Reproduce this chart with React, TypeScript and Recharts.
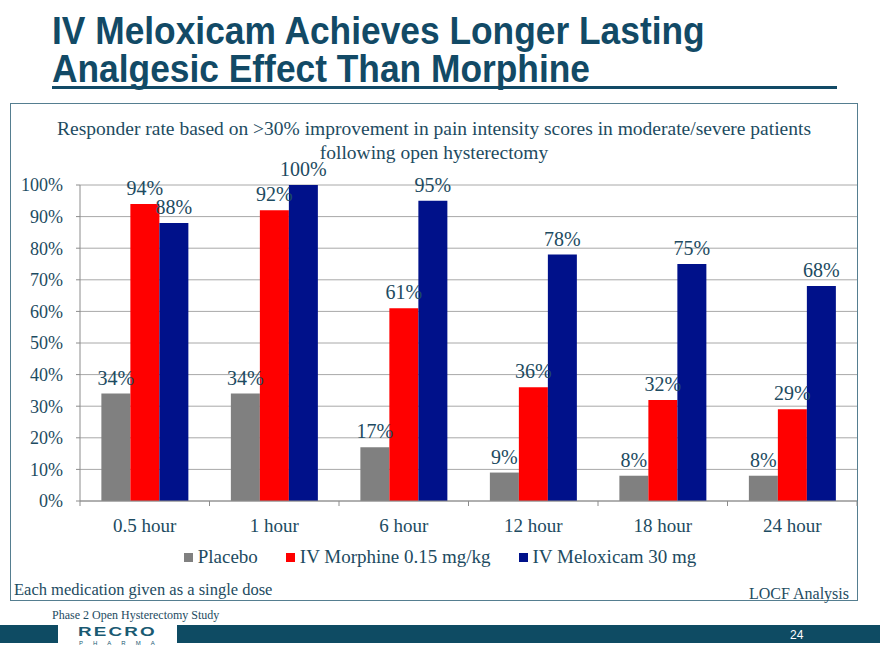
import React from 'react';
import { BarChart, Bar, XAxis, YAxis, CartesianGrid, Legend, LabelList } from 'recharts';

const categories = ['0.5 hour', '1 hour', '6 hour', '12 hour', '18 hour', '24 hour'];
const placebo = [34, 34, 17, 9, 8, 8];
const morphine = [94, 92, 61, 36, 32, 29];
const meloxicam = [88, 100, 95, 78, 75, 68];
const yTicks = [0, 10, 20, 30, 40, 50, 60, 70, 80, 90, 100];

const seriesInfo = [
  { key: 'placebo', name: 'Placebo', color: '#808080' },
  { key: 'morphine', name: 'IV Morphine 0.15 mg/kg', color: '#FF0000' },
  { key: 'meloxicam', name: 'IV Meloxicam 30 mg', color: '#00118A' },
];

const data = categories.map((c, i) => ({
  name: c,
  placebo: placebo[i],
  morphine: morphine[i],
  meloxicam: meloxicam[i],
}));

const TEXT = '#1D4B61';
const TITLE = '#124A66';
const SERIF = '"Liberation Serif", "Times New Roman", serif';
const SANS = '"Liberation Sans", Arial, sans-serif';

// plot area edges (px)
const PLOT_LEFT = 80;
const PLOT_RIGHT = 857;
const STEP = (PLOT_RIGHT - PLOT_LEFT) / categories.length;

const pct = (v: any) => `${v}%`;

const XTick = (props: any) => {
  const { x, y, payload, index } = props;
  const axisY = y - 18;
  return (
    <g>
      <line x1={x - STEP / 2} y1={axisY} x2={x - STEP / 2} y2={axisY + 5} stroke="#8C8C8C" />
      {index === categories.length - 1 && (
        <line x1={x + STEP / 2} y1={axisY} x2={x + STEP / 2} y2={axisY + 5} stroke="#8C8C8C" />
      )}
      <text x={x} y={y} dy="0.71em" textAnchor="middle" fill={TEXT} fontFamily={SERIF} fontSize={19}>
        {payload.value}
      </text>
    </g>
  );
};

const LegendContent = () => (
  <div style={{ display: 'flex', justifyContent: 'center', alignItems: 'center', fontFamily: SERIF, fontSize: 19, color: TEXT }}>
    {seriesInfo.map((s) => (
      <div key={s.key} style={{ display: 'flex', alignItems: 'center', margin: '0 14px' }}>
        <span style={{ display: 'inline-block', width: 9, height: 9, background: s.color, marginRight: 5 }} />
        <span>{s.name}</span>
      </div>
    ))}
  </div>
);

const Txt = ({ x, base, size, children, font = SERIF, color = TEXT, anchor = 'left', weight = 400, style = {} }: any) => (
  <div
    style={{
      position: 'absolute',
      top: base - 0.84 * size,
      ...(anchor === 'left' ? { left: x } : { right: 880 - x }),
      fontFamily: font,
      fontSize: size,
      lineHeight: `${size}px`,
      color,
      fontWeight: weight,
      whiteSpace: 'nowrap',
      ...style,
    }}
  >
    {children}
  </div>
);

export default function App() {
  return (
    <div style={{ position: 'absolute', left: 0, top: 0, width: 880, height: 660, background: '#fff', overflow: 'hidden' }}>
      {/* title */}
      <div style={{ position: 'absolute', left: 52, top: 12, fontFamily: SANS, fontWeight: 700, fontSize: 38, lineHeight: '38px', color: TITLE, whiteSpace: 'nowrap', transform: 'scaleX(0.93)', transformOrigin: 'left top' }}>
        IV Meloxicam Achieves Longer Lasting
        <br />
        Analgesic Effect Than Morphine
      </div>
      <div style={{ position: 'absolute', left: 52, top: 86, width: 785, height: 3, background: TITLE }} />

      {/* chart frame */}
      <div style={{ position: 'absolute', left: 10, top: 103, width: 846, height: 496, border: '1.5px solid #557E90' }} />

      <div style={{ position: 'absolute', left: 10, width: 848, top: 117, textAlign: 'center', fontFamily: SERIF, fontSize: 19.5, lineHeight: '24px', color: TEXT }}>
        Responder rate based on &gt;30% improvement in pain intensity scores in moderate/severe patients
        <br />
        following open hysterectomy
      </div>

      <div style={{ position: 'absolute', left: 0, top: 0 }}>
        <BarChart
          width={880}
          height={660}
          data={data}
          margin={{ top: 185, right: 880 - PLOT_RIGHT, bottom: 129, left: PLOT_LEFT - 70 }}
          barCategoryGap="16.5%"
          barGap={0}
        >
          <CartesianGrid vertical={false} stroke="#A8A8A8" />
          <XAxis
            dataKey="name"
            height={30}
            axisLine={{ stroke: '#8C8C8C' }}
            tickLine={false}
            tickSize={5}
            tickMargin={13}
            tick={<XTick />}
            interval={0}
          />
          <YAxis
            width={70}
            domain={[0, 100]}
            ticks={yTicks}
            tickFormatter={pct}
            axisLine={{ stroke: '#8C8C8C' }}
            tickLine={{ stroke: '#8C8C8C' }}
            tickSize={4}
            tickMargin={13}
            tick={{ fill: TEXT, fontFamily: SERIF, fontSize: 18 }}
          />
          <Legend verticalAlign="middle" align="center" content={<LegendContent />} wrapperStyle={{ top: 546, left: 0, width: 880 }} />
          {seriesInfo.map((s) => (
            <Bar key={s.key} dataKey={s.key} name={s.name} fill={s.color} isAnimationActive={false}>
              <LabelList dataKey={s.key} position="top" offset={9} formatter={pct} fill={TEXT} fontFamily={SERIF} fontSize={20} />
            </Bar>
          ))}
        </BarChart>
      </div>

      <Txt x={14} base={596} size={16.5}>Each medication given as a single dose</Txt>
      <Txt x={849} base={599} size={16} anchor="right">LOCF Analysis</Txt>

      {/* footer */}
      <Txt x={52} base={619} size={12}>Phase 2 Open Hysterectomy Study</Txt>
      <div style={{ position: 'absolute', left: 0, top: 625, width: 58, height: 18, background: '#0E4B63' }} />
      <div style={{ position: 'absolute', left: 177, top: 625, width: 703, height: 18, background: '#0E4B63' }} />
      <Txt x={78} base={636} size={13} font={SANS} weight={900} color="#1A5A72" style={{ letterSpacing: 1.5, transform: 'scaleX(1.45)', transformOrigin: 'left' }}>RECRO</Txt>
      <Txt x={79} base={645} size={6} font={SANS} color="#1A5A72" style={{ letterSpacing: 10 }}>PHARMA</Txt>
      <Txt x={790} base={639} size={12} font={SANS} color="#FFFFFF">24</Txt>
    </div>
  );
}
